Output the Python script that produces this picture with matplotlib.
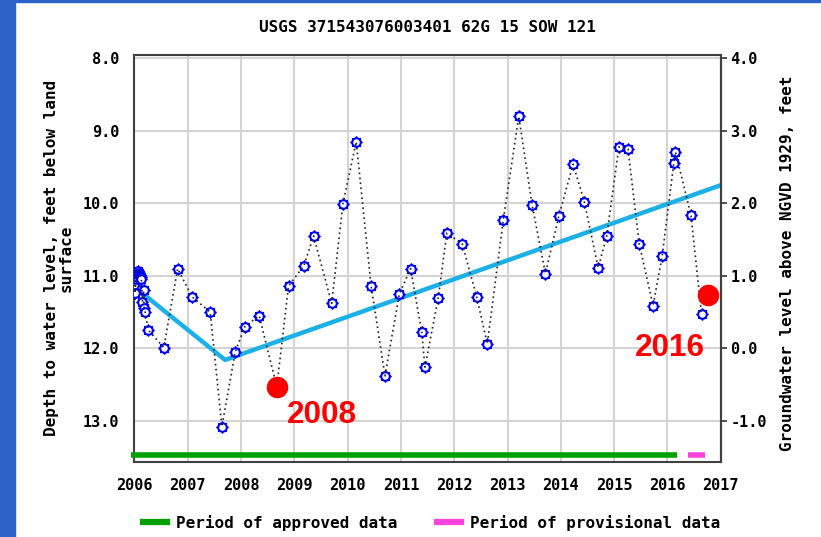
import matplotlib
matplotlib.use("Agg")
import matplotlib.pyplot as plt
from matplotlib.lines import Line2D
from matplotlib.patches import Rectangle

# water level observations (decimal year, depth below land surface in feet)
years = [2006.00, 2006.01, 2006.03, 2006.04, 2006.05, 2006.06, 2006.07, 2006.08,
         2006.09, 2006.10, 2006.11, 2006.12, 2006.13,
         2006.15, 2006.17, 2006.18, 2006.20, 2006.26, 2006.55, 2006.81, 2007.08,
         2007.42, 2007.64, 2007.89, 2008.07, 2008.34, 2008.67, 2008.89, 2009.18,
         2009.36, 2009.70, 2009.91, 2010.16, 2010.44, 2010.70, 2010.97, 2011.18,
         2011.39, 2011.45, 2011.70, 2011.86, 2012.15, 2012.42, 2012.62, 2012.92,
         2013.21, 2013.46, 2013.71, 2013.96, 2014.23, 2014.44, 2014.70, 2014.86,
         2015.09, 2015.26, 2015.47, 2015.73, 2015.90, 2016.12, 2016.15, 2016.44,
         2016.64]
depths = [11.12, 11.24, 11.05, 11.02, 10.98, 10.95, 10.94, 10.96,
          10.97, 10.99, 11.00, 11.02, 11.04,
          11.36, 11.20, 11.45, 11.50, 11.75, 11.99, 10.90, 11.29,
          11.50, 13.08, 12.05, 11.70, 11.55, 12.53, 11.14, 10.86,
          10.45, 11.38, 10.01, 9.15, 11.14, 12.38, 11.25, 10.90,
          11.78, 12.26, 11.30, 10.41, 10.56, 11.29, 11.94, 10.23,
          8.80, 10.02, 10.97, 10.18, 9.46, 9.98, 10.89, 10.45,
          9.22, 9.25, 10.56, 11.41, 10.73, 9.44, 9.29, 10.16,
          11.53]

trend_years = [2006.08, 2007.70, 2017.0]
trend_depths = [11.20, 12.16, 9.75]

highlight_years = [2008.67, 2016.77]
highlight_depths = [12.53, 11.27]
highlight_labels = ["2008", "2016"]
highlight_label_pos = [(2009.52, 12.92), (2016.05, 12.0)]

approved_period = [2005.94, 2016.18]
provisional_period = [2016.39, 2016.70]

year_ticks = list(range(2006, 2018))
depth_ticks = [8.0, 9.0, 10.0, 11.0, 12.0, 13.0]
elev_ticks = [4.0, 3.0, 2.0, 1.0, 0.0, -1.0]
land_surface = 12.0  # NGVD 1929 elevation of land surface

title = "USGS 371543076003401 62G 15 SOW 121"

plt.rcParams["axes.unicode_minus"] = False
mono = "DejaVu Sans Mono"

fig = plt.figure(figsize=(8.21, 5.37), dpi=100)
ax = fig.add_axes([0.1638, 0.1402, 0.7141, 0.7574])

ax.set_xlim(2006, 2017)
ax.set_ylim(13.564, 7.954)
ax.set_xticks(year_ticks)
ax.set_yticks(depth_ticks)
ax.set_yticklabels([f"{v:.1f}" for v in depth_ticks])
ax.grid(True, color="#d4d4d4", lw=1.5)
ax.set_axisbelow(True)
ax.tick_params(axis="both", length=0, labelsize=11)
ax.tick_params(axis="x", pad=12)
ax.tick_params(axis="y", pad=11)
for lab in ax.get_xticklabels() + ax.get_yticklabels():
    lab.set_fontfamily(mono); lab.set_fontweight("bold")
for s in ax.spines.values():
    s.set_color("#404040"); s.set_linewidth(1.5)

ax.plot(trend_years, trend_depths, color="#1cb0e6", lw=3.2, zorder=2, solid_capstyle="butt")
# USGS style marker: small spikes round an open circle, dotted line through the centre
ax.plot(years, depths, ls="none", marker=(8, 2, 0), ms=8.5, mec="#0000ff", mew=1.0, zorder=3)
ax.plot(years, depths, ls="none", marker="o", ms=6.2, mfc="white", mec="#0000ff", mew=1.5, zorder=4)
ax.plot(years, depths, color="#222222", ls=(0, (1, 2.0)), lw=1.2, zorder=5)
ax.plot(highlight_years, highlight_depths, ls="none", marker="o", ms=14.5, color="#ff0000", zorder=6)
for (tx, ty), t in zip(highlight_label_pos, highlight_labels):
    ax.text(tx, ty, t, color="#ff0000", fontsize=22.7, fontweight="bold",
            family="Liberation Sans", ha="center", va="center", zorder=7)

ax.plot(approved_period, [13.47, 13.47], color="#00a000", lw=4, solid_capstyle="butt", clip_on=False, zorder=3)
ax.plot(provisional_period, [13.47, 13.47], color="#ff44dd", lw=4, solid_capstyle="butt", clip_on=False, zorder=3)

sec = ax.secondary_yaxis("right", functions=(lambda d: land_surface - d, lambda e: land_surface - e))
sec.set_yticks(elev_ticks)
sec.set_yticklabels([f"{v:.1f}" for v in elev_ticks])
sec.tick_params(length=4, width=1.3, pad=3, labelsize=11, color="#404040")
for lab in sec.get_yticklabels():
    lab.set_fontfamily(mono); lab.set_fontweight("bold")
sec.spines["right"].set_color("#404040"); sec.spines["right"].set_linewidth(1.5)

fig.text(0.5208, 1 - 27 / 537, title, ha="center", va="center", family=mono, fontweight="bold", fontsize=11.5)
fig.text(59 / 821, 1 - 258 / 537, "Depth to water level, feet below land\nsurface", rotation=90,
         ha="center", va="center", multialignment="center", family=mono, fontweight="bold",
         fontsize=11.5, linespacing=1.0)
fig.text(787 / 821, 1 - 263 / 537, "Groundwater level above NGVD 1929, feet", rotation=90,
         ha="center", va="center", family=mono, fontweight="bold", fontsize=11.5)

handles = [Line2D([], [], color="#00a000", lw=4.5), Line2D([], [], color="#ff44dd", lw=4.5)]
leg = fig.legend(handles, ["Period of approved data", "Period of provisional data"], loc="center",
                 bbox_to_anchor=(0.526, 1 - 523 / 537), ncol=2, frameon=False,
                 prop={"family": mono, "weight": "bold", "size": 11.5},
                 handlelength=1.5, handletextpad=0.55, columnspacing=2.5)

# blue page frame
fig.patches.append(Rectangle((0, 0), 15 / 821, 1, transform=fig.transFigure, color="#2f62c8", zorder=0))
fig.patches.append(Rectangle((0, 1 - 2 / 537), 1, 2 / 537, transform=fig.transFigure, color="#2f62c8", zorder=0))

fig.savefig("out.png", dpi=100, facecolor="white")
